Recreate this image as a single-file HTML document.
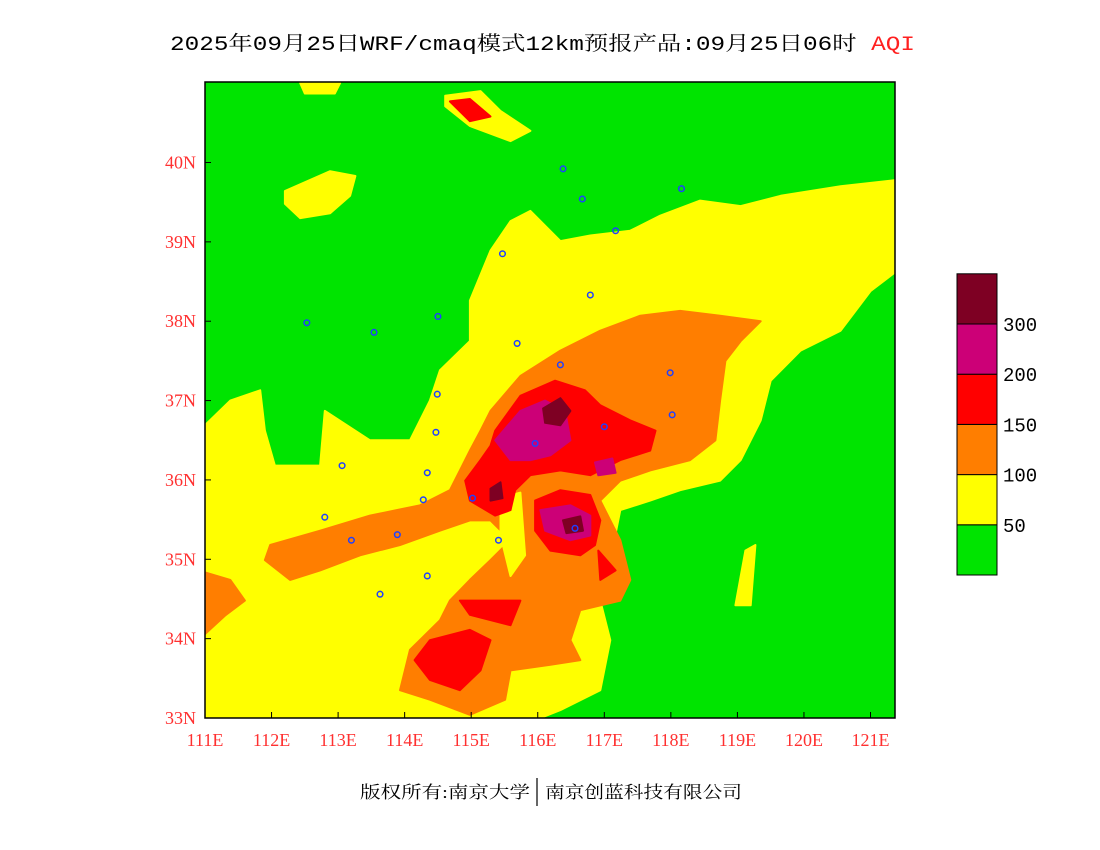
<!DOCTYPE html>
<html>
<head>
<meta charset="utf-8">
<style>
html,body{margin:0;padding:0;background:#fff;}
svg{display:block;}
</style>
</head>
<body>
<svg id="chart" width="1100" height="850" xmlns="http://www.w3.org/2000/svg">
  <text x="170" y="50" font-family="'Liberation Mono','Noto Serif CJK SC',monospace" font-size="20" textLength="745" lengthAdjust="spacingAndGlyphs"><tspan fill="#000">2025年09月25日WRF/cmaq模式12km预报产品:09月25日06时 </tspan><tspan fill="#ff2020">AQI</tspan></text>
  <defs><clipPath id="plotclip"><rect x="205" y="82" width="690" height="636"/></clipPath></defs>
  <g id="plot" clip-path="url(#plotclip)"></g>
  <rect x="205" y="82" width="690" height="636" fill="none" stroke="#000" stroke-width="1.5"/>
  <g id="axes"></g>
  <g id="colorbar"></g>
  <text x="360" y="798" font-family="'Liberation Serif','Noto Serif CJK SC',serif" font-size="17" textLength="170" lengthAdjust="spacingAndGlyphs" fill="#000">版权所有:南京大学</text>
  <line x1="537" y1="778" x2="537" y2="806" stroke="#000" stroke-width="1.2"/>
  <text x="545" y="798" font-family="'Liberation Serif','Noto Serif CJK SC',serif" font-size="17" textLength="197" lengthAdjust="spacingAndGlyphs" fill="#000">南京创蓝科技有限公司</text>
</svg>
<script>
// ---- axis data ----
const lonTicks = [111,112,113,114,115,116,117,118,119,120,121];
const lonLabels = ["111E","112E","113E","114E","115E","116E","117E","118E","119E","120E","121E"];
const latTicks = [33,34,35,36,37,38,39,40];
const latLabels = ["33N","34N","35N","36N","37N","38N","39N","40N"];
// colorbar data
const levelColors = ["#00e400","#ffff00","#ff7e00","#ff0000","#cc0077","#7e0023"];
const levelLabels = ["50","100","150","200","300"];

// ---- contour polygons (lon, lat) ----
const yellowMain = [[111,36.69],[111.38,37.0],[111.83,37.13],[111.9,36.62],[112.05,36.18],[112.73,36.18],[112.8,36.87],[113.48,36.5],[114.08,36.5],[114.38,37.0],[114.53,37.38],[114.98,37.75],[114.98,38.26],[115.29,38.89],[115.59,39.26],[115.89,39.39],[116.34,39.01],[116.79,39.08],[117.39,39.14],[117.84,39.33],[118.44,39.52],[119.05,39.45],[119.65,39.58],[120.55,39.7],[121.5,39.79],[121.5,38.7],[121.0,38.38],[120.55,37.88],[119.95,37.63],[119.5,37.25],[119.35,36.75],[119.05,36.25],[118.74,35.99],[118.14,35.87],[117.69,35.74],[117.24,35.62],[117.09,34.99],[116.94,34.48],[117.09,33.98],[116.94,33.35],[116.34,33.1],[115.74,32.9],[110.9,32.9],[110.9,36.69]];
const yellowNorth = [[112.2,39.64],[112.88,39.89],[113.26,39.83],[113.18,39.58],[112.88,39.36],[112.43,39.3],[112.2,39.48]];
const yellowTop = [[114.61,40.84],[115.14,40.9],[115.44,40.65],[115.89,40.4],[115.59,40.27],[114.98,40.46],[114.61,40.71]];
const yellowTopLeft = [[112.43,41.0],[113.03,41.0],[112.95,40.87],[112.5,40.87]];
const yellowEast = [[119.12,35.11],[119.27,35.18],[119.2,34.42],[118.97,34.42]];
const orangeMain = [[115.29,36.87],[115.74,37.31],[116.34,37.63],[116.94,37.88],[117.54,38.07],[118.14,38.13],[118.74,38.07],[119.35,38.0],[119.05,37.75],[118.82,37.5],[118.74,37.0],[118.67,36.5],[118.29,36.25],[117.69,36.12],[117.24,35.99],[116.94,35.74],[117.24,35.24],[117.39,34.74],[117.24,34.48],[116.64,34.36],[116.49,33.98],[116.64,33.73],[116.19,33.67],[115.59,33.6],[115.51,33.23],[114.98,33.04],[114.38,33.23],[113.93,33.35],[114.08,33.86],[114.53,34.23],[114.68,34.48],[114.98,34.74],[115.29,34.99],[115.59,35.24],[115.29,35.49],[114.98,35.49],[114.53,35.36],[113.93,35.18],[113.33,35.05],[112.73,34.86],[112.28,34.74],[111.9,34.99],[111.98,35.18],[112.73,35.36],[113.48,35.55],[114.23,35.68],[114.68,35.87],[114.83,36.12],[114.98,36.37],[115.14,36.62]];
const orangeWest = [[110.9,34.86],[111.38,34.74],[111.6,34.48],[111.3,34.29],[110.9,33.98]];
const yellowPocket = [[115.44,35.77],[115.74,35.84],[115.81,35.05],[115.59,34.79],[115.44,35.3]];
const redMain = [[115.36,36.62],[115.74,37.06],[116.26,37.25],[116.71,37.13],[116.94,36.94],[117.39,36.75],[117.77,36.62],[117.69,36.37],[117.24,36.25],[116.79,36.06],[116.34,36.12],[115.89,36.06],[115.66,35.87],[115.59,35.62],[115.36,35.55],[114.98,35.74],[114.91,35.99],[115.14,36.25],[115.29,36.43]];
const redSE = [[115.96,35.74],[116.34,35.87],[116.79,35.81],[116.94,35.49],[116.86,35.18],[116.64,35.05],[116.19,35.11],[115.96,35.36]];
const redSouth = [[114.38,33.98],[114.98,34.11],[115.29,33.98],[115.14,33.6],[114.83,33.35],[114.38,33.48],[114.15,33.73]];
const redSouth2 = [[114.83,34.48],[115.74,34.48],[115.59,34.17],[114.98,34.3]];
const redSouth3 = [[116.91,35.11],[117.17,34.86],[116.94,34.74]];
const redTop = [[114.68,40.77],[114.98,40.8],[115.29,40.58],[114.98,40.52]];
const magentaMain = [[115.36,36.5],[115.74,36.87],[116.11,37.0],[116.41,36.87],[116.49,36.5],[116.19,36.31],[115.89,36.25],[115.59,36.25]];
const magentaSE = [[116.04,35.62],[116.49,35.68],[116.79,35.55],[116.79,35.3],[116.49,35.24],[116.11,35.36]];
const magentaE = [[116.86,36.22],[117.12,36.27],[117.17,36.09],[116.91,36.06]];
const maroon1 = [[116.08,36.9],[116.34,37.03],[116.49,36.87],[116.34,36.69],[116.11,36.72]];
const maroon2 = [[116.38,35.49],[116.64,35.54],[116.68,35.36],[116.43,35.33]];
const maroon3 = [[115.29,35.89],[115.44,35.97],[115.47,35.77],[115.29,35.74]];
// city stations (lon, lat)
const cityLons = [116.38,116.67,118.16,117.17,115.47,116.79,112.53,113.54,114.5,115.69,116.34,114.49,117.99,114.47,117.0,118.02,115.96,113.06,114.34,115.02,114.28,112.8,115.41,116.56,113.89,113.2,114.34,113.63];
const cityLats = [39.92,39.54,39.67,39.14,38.85,38.33,37.98,37.86,38.06,37.72,37.45,37.08,37.35,36.6,36.67,36.82,36.46,36.18,36.09,35.77,35.75,35.53,35.24,35.39,35.31,35.24,34.79,34.56];

// ---- axis functions ----
const X0=205, X1=870.5, Y0=718, Y1=162.5;
function xScale(lon){ return X0 + (lon-111)*(X1-X0)/10; }
function yScale(lat){ return Y0 - (lat-33)*(Y0-Y1)/7; }
const NS="http://www.w3.org/2000/svg";
const plot=document.getElementById('plot');
function mk(tag,attrs,parent){const e=document.createElementNS(NS,tag);for(const k in attrs)e.setAttribute(k,attrs[k]);parent.appendChild(e);return e;}

const bg=mk('rect',{x:205,y:82,width:690,height:636,fill:levelColors[0]},plot);



function poly(pts,color,name){
  const p=mk('polygon',{points:pts.map(q=>xScale(q[0]).toFixed(1)+','+yScale(q[1]).toFixed(1)).join(' '),fill:color,stroke:color,'stroke-width':2,'stroke-linejoin':'round'},plot);
  
  
}
poly(yellowMain,levelColors[1],'aqi-moderate-region');
poly(yellowNorth,levelColors[1],'aqi-moderate-north');
poly(yellowTop,levelColors[1],'aqi-moderate-top');
poly(yellowTopLeft,levelColors[1],'aqi-moderate-top-left');
poly(yellowEast,levelColors[1],'aqi-moderate-east');
poly(orangeMain,levelColors[2],'aqi-sensitive-region');
poly(orangeWest,levelColors[2],'aqi-sensitive-west');
poly(yellowPocket,levelColors[1],'aqi-moderate-pocket');
poly(redMain,levelColors[3],'aqi-unhealthy-main');
poly(redSE,levelColors[3],'aqi-unhealthy-southeast');
poly(redSouth,levelColors[3],'aqi-unhealthy-south');
poly(redSouth2,levelColors[3],'aqi-unhealthy-south-2');
poly(redSouth3,levelColors[3],'aqi-unhealthy-south-3');
poly(redTop,levelColors[3],'aqi-unhealthy-top');
poly(magentaMain,levelColors[4],'aqi-very-unhealthy-main');
poly(magentaSE,levelColors[4],'aqi-very-unhealthy-southeast');
poly(magentaE,levelColors[4],'aqi-very-unhealthy-east');
poly(maroon1,levelColors[5],'aqi-hazardous-1');
poly(maroon2,levelColors[5],'aqi-hazardous-2');
poly(maroon3,levelColors[5],'aqi-hazardous-3');

for(let i=0;i<cityLons.length;i++){
  const c=mk('circle',{cx:xScale(cityLons[i]),cy:yScale(cityLats[i]),r:2.8,fill:'none',stroke:'#2040ff','stroke-width':1.5},plot);
  
  
}

// axes
const axes=document.getElementById('axes');
const tickColor='#ff3030';
lonTicks.forEach((v,i)=>{
  const x=xScale(v);
  const t=mk('line',{x1:x,y1:718,x2:x,y2:712,stroke:'#000','stroke-width':1},axes);
  
  
  const l=mk('text',{x:x,y:746,'text-anchor':'middle','font-family':"'Liberation Serif',serif",'font-size':18,fill:tickColor},axes);
  l.textContent=lonLabels[i];
  
  
});
latTicks.forEach((v,i)=>{
  const y=yScale(v);
  const t=mk('line',{x1:205,y1:y,x2:211,y2:y,stroke:'#000','stroke-width':1},axes);
  
  
  const l=mk('text',{x:196,y:y+6,'text-anchor':'end','font-family':"'Liberation Serif',serif",'font-size':18,fill:tickColor},axes);
  l.textContent=latLabels[i];
  
  
});

// colorbar
const cb=document.getElementById('colorbar');
const cbX=957,cbW=40,cbBottom=575,cbH=50.2;
levelColors.forEach((c,i)=>{
  const r=mk('rect',{x:cbX,y:cbBottom-(i+1)*cbH,width:cbW,height:cbH,fill:c,stroke:'#000','stroke-width':1},cb);
  
  
});
levelLabels.forEach((s,i)=>{
  const l=mk('text',{x:1003,y:cbBottom-(i+1)*cbH+7,'font-family':"'Liberation Mono',monospace",'font-size':19,fill:'#000'},cb);
  l.textContent=s;
  
  
});
</script>
</body>
</html>
